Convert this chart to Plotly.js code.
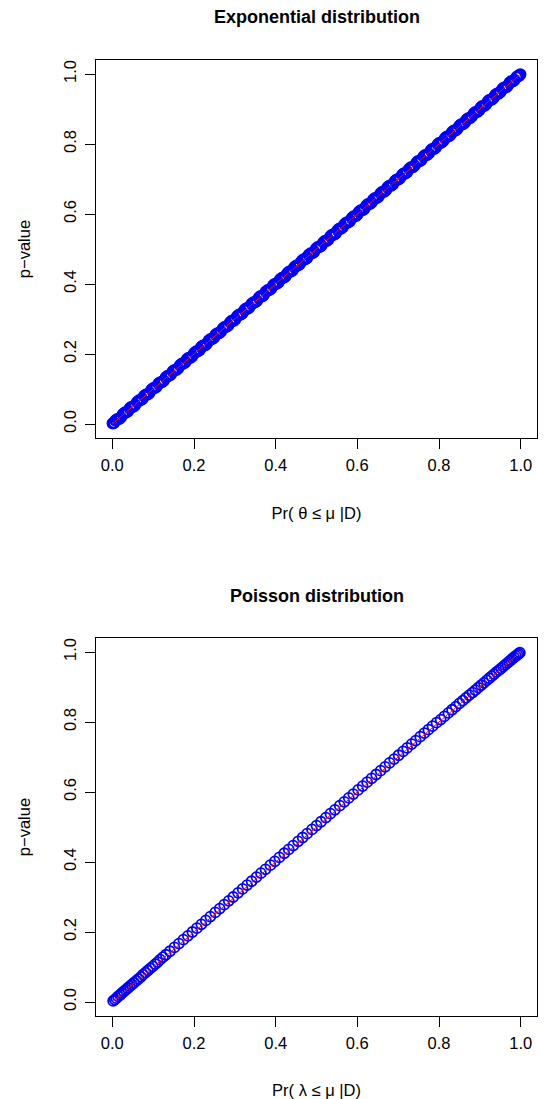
<!DOCTYPE html>
<html>
<head>
<meta charset="utf-8">
<script src="https://cdn.plot.ly/plotly-3.0.1.min.js"></script>
<style>html,body{margin:0;padding:0;background:#fff;}#chart{width:545px;height:1099px;}</style>
</head>
<body>
<div id="chart"></div>
<script>
// Exponential distribution panel (two interleaved readings of the dense band)
var expX = [0.001,0.008,0.017,0.026,0.034,0.043,0.052,0.061,0.069,0.078,
0.087,0.096,0.104,0.113,0.122,0.131,0.139,0.148,0.157,0.166,
0.175,0.183,0.192,0.201,0.210,0.218,0.227,0.236,0.245,0.253,
0.262,0.271,0.280,0.289,0.297,0.306,0.315,0.324,0.332,0.341,
0.350,0.359,0.367,0.376,0.385,0.394,0.403,0.411,0.420,0.429,
0.438,0.446,0.455,0.464,0.473,0.481,0.490,0.499,0.508,0.517,
0.525,0.534,0.543,0.552,0.560,0.569,0.578,0.587,0.596,0.604,
0.613,0.622,0.631,0.639,0.648,0.657,0.666,0.674,0.683,0.692,
0.701,0.710,0.718,0.727,0.736,0.745,0.753,0.762,0.771,0.780,
0.788,0.797,0.806,0.815,0.824,0.832,0.841,0.850,0.859,0.867,
0.876,0.885,0.894,0.902,0.911,0.920,0.929,0.938,0.946,0.955,
0.964,0.973,0.981,0.990,0.996,0.999];
var expY = [0.002,0.010,0.015,0.028,0.033,0.045,0.050,0.063,0.068,0.080,
0.085,0.098,0.103,0.115,0.120,0.133,0.138,0.150,0.155,0.168,
0.173,0.185,0.190,0.203,0.208,0.220,0.225,0.238,0.243,0.255,
0.260,0.273,0.278,0.291,0.295,0.308,0.313,0.326,0.330,0.343,
0.348,0.361,0.365,0.378,0.383,0.396,0.401,0.413,0.418,0.431,
0.436,0.448,0.453,0.466,0.471,0.483,0.488,0.501,0.506,0.519,
0.523,0.536,0.541,0.554,0.558,0.571,0.576,0.589,0.594,0.606,
0.611,0.624,0.629,0.641,0.646,0.659,0.664,0.676,0.681,0.694,
0.699,0.712,0.716,0.729,0.734,0.747,0.751,0.764,0.769,0.782,
0.786,0.799,0.804,0.817,0.822,0.834,0.839,0.852,0.857,0.869,
0.874,0.887,0.892,0.904,0.909,0.922,0.927,0.940,0.944,0.957,
0.962,0.975,0.979,0.991,0.995,0.999];
var expXb = [0.004,0.012,0.021,0.030,0.038,0.047,0.056,0.065,0.073,0.082,
0.091,0.100,0.108,0.117,0.126,0.135,0.143,0.152,0.161,0.170,
0.179,0.187,0.196,0.205,0.214,0.222,0.231,0.240,0.249,0.257,
0.266,0.275,0.284,0.293,0.301,0.310,0.319,0.328,0.336,0.345,
0.354,0.363,0.371,0.380,0.389,0.398,0.407,0.415,0.424,0.433,
0.442,0.450,0.459,0.468,0.477,0.485,0.494,0.503,0.512,0.521,
0.529,0.538,0.547,0.556,0.564,0.573,0.582,0.591,0.600,0.608,
0.617,0.626,0.635,0.643,0.652,0.661,0.670,0.678,0.687,0.696,
0.705,0.714,0.722,0.731,0.740,0.749,0.757,0.766,0.775,0.784,
0.792,0.801,0.810,0.819,0.828,0.836,0.845,0.854,0.863,0.871,
0.880,0.889,0.898,0.906,0.915,0.924,0.933,0.942,0.950,0.959,
0.968,0.977,0.985,0.993];
var expYb = [0.003,0.014,0.019,0.032,0.036,0.049,0.054,0.067,0.071,0.084,
0.089,0.102,0.106,0.119,0.124,0.137,0.141,0.154,0.159,0.172,
0.177,0.189,0.194,0.207,0.212,0.224,0.229,0.242,0.247,0.259,
0.264,0.277,0.282,0.295,0.299,0.312,0.317,0.330,0.334,0.347,
0.352,0.365,0.369,0.382,0.387,0.400,0.405,0.417,0.422,0.435,
0.440,0.452,0.457,0.470,0.475,0.487,0.492,0.505,0.510,0.523,
0.527,0.540,0.545,0.558,0.562,0.575,0.580,0.593,0.598,0.610,
0.615,0.628,0.633,0.645,0.650,0.663,0.668,0.680,0.685,0.698,
0.703,0.716,0.720,0.733,0.738,0.751,0.755,0.768,0.773,0.786,
0.790,0.803,0.808,0.821,0.826,0.838,0.843,0.856,0.861,0.873,
0.878,0.891,0.896,0.908,0.913,0.926,0.931,0.944,0.948,0.961,
0.966,0.979,0.983,0.994];

// Poisson distribution panel
var poisX = [0.002,0.006,0.010,0.014,0.019,0.023,0.028,0.033,0.038,0.043,
0.048,0.053,0.059,0.064,0.070,0.075,0.081,0.087,0.093,0.099,
0.105,0.111,0.117,0.124,
0.131,0.141,0.152,0.163,0.174,0.185,0.196,0.207,0.218,0.229,
0.240,0.252,0.263,0.274,0.285,0.296,0.308,0.319,0.330,0.341,
0.353,0.364,0.375,0.387,0.398,0.409,0.421,0.432,0.443,0.455,
0.466,0.477,0.489,0.500,0.511,0.523,0.534,0.545,0.557,0.568,
0.579,0.590,0.602,0.613,0.624,0.635,0.646,0.657,0.668,0.679,
0.690,0.701,0.712,0.722,0.733,0.743,0.754,0.764,0.774,0.784,
0.794,0.804,0.813,0.823,0.832,0.841,0.850,
0.858,0.866,0.874,0.882,0.889,0.896,0.903,0.910,0.917,0.923,
0.929,0.935,0.941,0.947,0.952,0.957,0.962,0.967,0.972,0.976,
0.980,0.984,0.988,0.992,0.995,0.998];
var poisY = [0.003,0.007,0.011,0.016,0.020,0.025,0.030,0.035,0.040,0.045,
0.050,0.055,0.061,0.066,0.072,0.078,0.084,0.090,0.096,0.102,
0.108,0.114,0.121,0.128,
0.135,0.145,0.156,0.167,0.178,0.189,0.200,0.211,0.222,0.233,
0.244,0.256,0.267,0.278,0.289,0.300,0.312,0.323,0.334,0.345,
0.357,0.368,0.379,0.391,0.402,0.413,0.425,0.436,0.447,0.459,
0.470,0.481,0.493,0.504,0.515,0.527,0.538,0.549,0.561,0.572,
0.583,0.594,0.606,0.617,0.628,0.639,0.650,0.661,0.672,0.683,
0.694,0.705,0.716,0.726,0.737,0.747,0.758,0.768,0.778,0.788,
0.798,0.807,0.816,0.826,0.835,0.844,0.853,
0.861,0.869,0.877,0.884,0.891,0.898,0.905,0.912,0.919,0.925,
0.931,0.937,0.943,0.948,0.953,0.958,0.963,0.968,0.973,0.977,
0.981,0.985,0.989,0.992,0.995,0.998];

// Reference line y = x
var refX = [0, 1];
var refY = [0, 1];

var tickVals = [0, 0.2, 0.4, 0.6, 0.8, 1.0];
var tickText = ["0.0", "0.2", "0.4", "0.6", "0.8", "1.0"];

var titles = ["Exponential distribution", "Poisson distribution"];
var xTitles = ["Pr( \u03b8 \u2264 \u03bc |D)", "Pr( \u03bb \u2264 \u03bc |D)"];
var yTitle = "p\u2212value";

var FONT = "Liberation Sans, Arial, Helvetica, sans-serif";
var fs = 16.5;

function ptTrace(x, y, xa, ya, lw) {
  return {x: x, y: y, xaxis: xa, yaxis: ya, type: "scatter", mode: "markers",
    marker: {symbol: "circle-open", size: 10, color: "#0000ff", line: {width: lw, color: "#0000ff"}},
    hoverinfo: "skip", showlegend: false};
}
function lineTrace(xa, ya) {
  return {x: refX, y: refY, xaxis: xa, yaxis: ya, type: "scatter", mode: "lines",
    line: {color: "#ff0000", width: 1}, hoverinfo: "skip", showlegend: false};
}

var data = [
  ptTrace(expX.concat(expXb), expY.concat(expYb), "x", "y", 2.4), lineTrace("x", "y"),
  ptTrace(poisX, poisY, "x2", "y2", 1.8), lineTrace("x2", "y2")
];

function xAxis(domain, anchor, title) {
  return {domain: domain, anchor: anchor, range: [-0.04, 1.04], tickvals: tickVals, ticktext: tickText,
    ticks: "outside", ticklen: 10, tickwidth: 1, tickcolor: "#000", ticklabelstandoff: 2,
    showline: true, mirror: true, linecolor: "#000", linewidth: 1,
    showgrid: false, zeroline: false, fixedrange: true,
    tickfont: {family: FONT, size: fs, color: "#000"},
    title: {text: title, font: {family: FONT, size: fs, color: "#000"}, standoff: 34}};
}
function yAxis(domain, anchor) {
  return {domain: domain, anchor: anchor, range: [-0.04, 1.04], tickvals: tickVals, ticktext: tickText,
    ticks: "outside", ticklen: 10, tickwidth: 1, tickcolor: "#000", tickangle: -90, ticklabelstandoff: 2,
    showline: true, mirror: true, linecolor: "#000", linewidth: 1,
    showgrid: false, zeroline: false, fixedrange: true,
    tickfont: {family: FONT, size: fs, color: "#000"},
    title: {text: yTitle, font: {family: FONT, size: fs, color: "#000"}, standoff: 26}};
}

var W = 545, H = 1099;
var xDom = [96 / W, 537 / W];
var yDom1 = [1 - 438 / H, 1 - 60 / H];
var yDom2 = [1 - 1016 / H, 1 - 638 / H];

var layout = {
  width: W, height: H,
  margin: {l: 0, r: 0, t: 0, b: 0},
  paper_bgcolor: "#fff", plot_bgcolor: "#fff",
  showlegend: false,
  xaxis: xAxis(xDom, "y", xTitles[0]),
  yaxis: yAxis(yDom1, "x"),
  xaxis2: xAxis(xDom, "y2", xTitles[1]),
  yaxis2: yAxis(yDom2, "x2"),
  annotations: [
    {text: "<b>" + titles[0] + "</b>", xref: "paper", yref: "paper", x: (xDom[0] + xDom[1]) / 2, y: 1 - 17 / H,
      xanchor: "center", yanchor: "middle", showarrow: false, font: {family: FONT, size: 18, color: "#000"}},
    {text: "<b>" + titles[1] + "</b>", xref: "paper", yref: "paper", x: (xDom[0] + xDom[1]) / 2, y: 1 - 596 / H,
      xanchor: "center", yanchor: "middle", showarrow: false, font: {family: FONT, size: 18, color: "#000"}}
  ]
};

Plotly.newPlot("chart", data, layout, {displayModeBar: false, staticPlot: true});
</script>
</body>
</html>
